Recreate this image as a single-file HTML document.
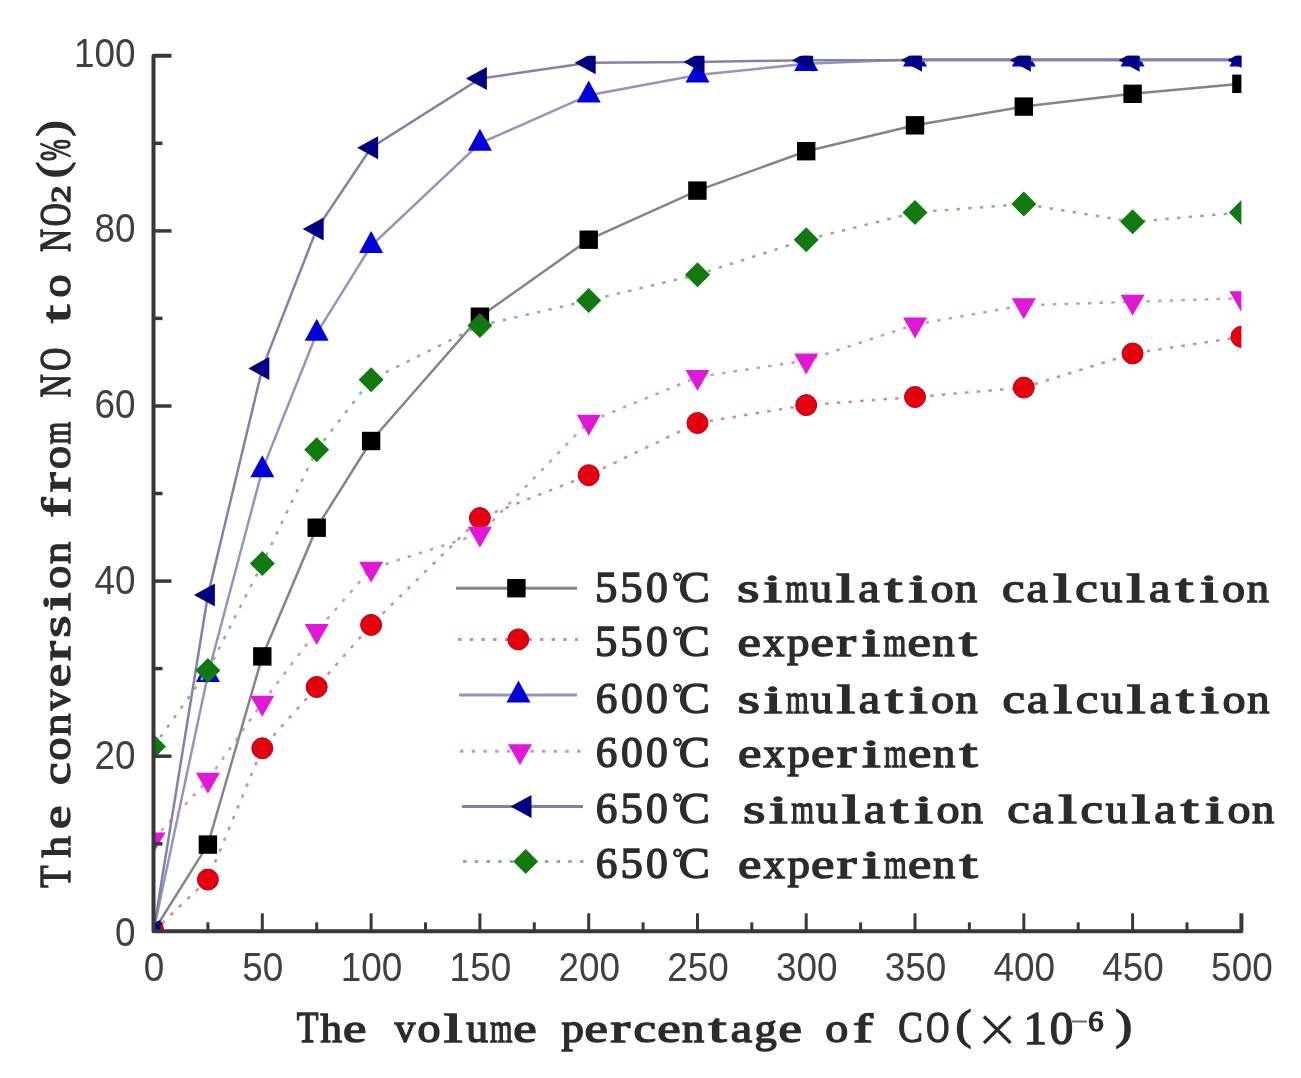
<!DOCTYPE html>
<html><head><meta charset="utf-8"><style>
html,body{margin:0;padding:0;background:#fff;}
svg{display:block;filter:blur(0.55px);}
.t text{font-family:"Liberation Sans",sans-serif;font-size:41px;fill:#404040;}
text.g{font-family:"Liberation Serif",serif;font-weight:normal;font-size:44px;fill:#2c2c2c;stroke:#2c2c2c;stroke-width:1.4px;}
.yl text.g{font-size:45px;}
</style></head><body>
<svg width="1301" height="1078" viewBox="0 0 1301 1078">
<defs><clipPath id="pc"><rect x="153.5" y="55.8" width="1087.9" height="875.5"/></clipPath></defs>
<rect width="1301" height="1078" fill="#fff"/>
<g clip-path="url(#pc)">
<polyline points="153.5,931.3 207.9,844.6 262.3,656.4 316.7,527.7 371.1,441.0 479.9,316.7 588.7,239.7 697.5,190.6 806.2,151.2 915.0,125.3 1023.8,106.6 1132.6,93.8 1241.4,83.8" fill="none" stroke="#858585" stroke-width="2.5"/>
<rect x="144.3" y="922.1" width="18.4" height="18.4" fill="#000000"/>
<rect x="198.7" y="835.4" width="18.4" height="18.4" fill="#000000"/>
<rect x="253.1" y="647.2" width="18.4" height="18.4" fill="#000000"/>
<rect x="307.5" y="518.5" width="18.4" height="18.4" fill="#000000"/>
<rect x="361.9" y="431.8" width="18.4" height="18.4" fill="#000000"/>
<rect x="470.7" y="307.5" width="18.4" height="18.4" fill="#000000"/>
<rect x="579.5" y="230.5" width="18.4" height="18.4" fill="#000000"/>
<rect x="688.2" y="181.4" width="18.4" height="18.4" fill="#000000"/>
<rect x="797.0" y="142.0" width="18.4" height="18.4" fill="#000000"/>
<rect x="905.8" y="116.1" width="18.4" height="18.4" fill="#000000"/>
<rect x="1014.6" y="97.4" width="18.4" height="18.4" fill="#000000"/>
<rect x="1123.4" y="84.6" width="18.4" height="18.4" fill="#000000"/>
<rect x="1232.2" y="74.6" width="18.4" height="18.4" fill="#000000"/>
<polyline points="153.5,931.3 207.9,879.6 262.3,748.3 316.7,687.0 371.1,624.9 479.9,518.1 588.7,475.2 697.5,423.0 806.2,405.1 915.0,397.0 1023.8,387.6 1132.6,353.5 1241.4,336.8" fill="none" stroke="#cc8e8e" stroke-width="2.5" stroke-dasharray="3.5 8.2"/>
<circle cx="153.5" cy="931.3" r="10.5" fill="#e4000e" stroke="#b00010" stroke-width="1"/>
<circle cx="207.9" cy="879.6" r="10.5" fill="#e4000e" stroke="#b00010" stroke-width="1"/>
<circle cx="262.3" cy="748.3" r="10.5" fill="#e4000e" stroke="#b00010" stroke-width="1"/>
<circle cx="316.7" cy="687.0" r="10.5" fill="#e4000e" stroke="#b00010" stroke-width="1"/>
<circle cx="371.1" cy="624.9" r="10.5" fill="#e4000e" stroke="#b00010" stroke-width="1"/>
<circle cx="479.9" cy="518.1" r="10.5" fill="#e4000e" stroke="#b00010" stroke-width="1"/>
<circle cx="588.7" cy="475.2" r="10.5" fill="#e4000e" stroke="#b00010" stroke-width="1"/>
<circle cx="697.5" cy="423.0" r="10.5" fill="#e4000e" stroke="#b00010" stroke-width="1"/>
<circle cx="806.2" cy="405.1" r="10.5" fill="#e4000e" stroke="#b00010" stroke-width="1"/>
<circle cx="915.0" cy="397.0" r="10.5" fill="#e4000e" stroke="#b00010" stroke-width="1"/>
<circle cx="1023.8" cy="387.6" r="10.5" fill="#e4000e" stroke="#b00010" stroke-width="1"/>
<circle cx="1132.6" cy="353.5" r="10.5" fill="#e4000e" stroke="#b00010" stroke-width="1"/>
<circle cx="1241.4" cy="336.8" r="10.5" fill="#e4000e" stroke="#b00010" stroke-width="1"/>
<polyline points="153.5,931.3 207.9,674.8 262.3,469.9 316.7,333.3 371.1,245.8 479.9,143.3 588.7,95.2 697.5,75.1 806.2,63.7 915.0,59.3 1023.8,59.3 1132.6,59.3 1241.4,59.3" fill="none" stroke="#9595bc" stroke-width="2.5"/>
<path d="M153.5 916.6L165.5 938.6L141.5 938.6Z" fill="#0000d8"/>
<path d="M207.9 660.1L219.9 682.1L195.9 682.1Z" fill="#0000d8"/>
<path d="M262.3 455.2L274.3 477.2L250.3 477.2Z" fill="#0000d8"/>
<path d="M316.7 318.7L328.7 340.7L304.7 340.7Z" fill="#0000d8"/>
<path d="M371.1 231.1L383.1 253.1L359.1 253.1Z" fill="#0000d8"/>
<path d="M479.9 128.7L491.9 150.7L467.9 150.7Z" fill="#0000d8"/>
<path d="M588.7 80.5L600.7 102.5L576.7 102.5Z" fill="#0000d8"/>
<path d="M697.5 60.4L709.5 82.4L685.5 82.4Z" fill="#0000d8"/>
<path d="M806.2 49.0L818.2 71.0L794.2 71.0Z" fill="#0000d8"/>
<path d="M915.0 44.6L927.0 66.6L903.0 66.6Z" fill="#0000d8"/>
<path d="M1023.8 44.6L1035.8 66.6L1011.8 66.6Z" fill="#0000d8"/>
<path d="M1132.6 44.6L1144.6 66.6L1120.6 66.6Z" fill="#0000d8"/>
<path d="M1241.4 44.6L1253.4 66.6L1229.4 66.6Z" fill="#0000d8"/>
<polyline points="153.5,839.4 207.9,779.8 262.3,702.8 316.7,631.0 371.1,568.8 479.9,533.8 588.7,421.8 697.5,377.1 806.2,360.5 915.0,324.6 1023.8,305.3 1132.6,301.8 1241.4,298.3" fill="none" stroke="#c896c8" stroke-width="2.5" stroke-dasharray="3.5 8.2"/>
<path d="M153.5 853.4L165.5 832.4L141.5 832.4Z" fill="#e018d8"/>
<path d="M207.9 793.8L219.9 772.8L195.9 772.8Z" fill="#e018d8"/>
<path d="M262.3 716.8L274.3 695.8L250.3 695.8Z" fill="#e018d8"/>
<path d="M316.7 645.0L328.7 624.0L304.7 624.0Z" fill="#e018d8"/>
<path d="M371.1 582.8L383.1 561.8L359.1 561.8Z" fill="#e018d8"/>
<path d="M479.9 547.8L491.9 526.8L467.9 526.8Z" fill="#e018d8"/>
<path d="M588.7 435.8L600.7 414.8L576.7 414.8Z" fill="#e018d8"/>
<path d="M697.5 391.1L709.5 370.1L685.5 370.1Z" fill="#e018d8"/>
<path d="M806.2 374.5L818.2 353.5L794.2 353.5Z" fill="#e018d8"/>
<path d="M915.0 338.6L927.0 317.6L903.0 317.6Z" fill="#e018d8"/>
<path d="M1023.8 319.3L1035.8 298.3L1011.8 298.3Z" fill="#e018d8"/>
<path d="M1132.6 315.8L1144.6 294.8L1120.6 294.8Z" fill="#e018d8"/>
<path d="M1241.4 312.3L1253.4 291.3L1229.4 291.3Z" fill="#e018d8"/>
<polyline points="153.5,931.3 207.9,595.1 262.3,368.4 316.7,229.1 371.1,147.7 479.9,78.6 588.7,62.8 697.5,61.9 806.2,60.2 915.0,60.2 1023.8,60.2 1132.6,60.2 1241.4,60.2" fill="none" stroke="#8282a8" stroke-width="2.5"/>
<path d="M139.5 931.3L160.5 919.8L160.5 942.8Z" fill="#000080"/>
<path d="M193.9 595.1L214.9 583.6L214.9 606.6Z" fill="#000080"/>
<path d="M248.3 368.4L269.3 356.9L269.3 379.9Z" fill="#000080"/>
<path d="M302.7 229.1L323.7 217.6L323.7 240.6Z" fill="#000080"/>
<path d="M357.1 147.7L378.1 136.2L378.1 159.2Z" fill="#000080"/>
<path d="M465.9 78.6L486.9 67.1L486.9 90.1Z" fill="#000080"/>
<path d="M574.7 62.8L595.7 51.3L595.7 74.3Z" fill="#000080"/>
<path d="M683.5 61.9L704.5 50.4L704.5 73.4Z" fill="#000080"/>
<path d="M792.2 60.2L813.2 48.7L813.2 71.7Z" fill="#000080"/>
<path d="M901.0 60.2L922.0 48.7L922.0 71.7Z" fill="#000080"/>
<path d="M1009.8 60.2L1030.8 48.7L1030.8 71.7Z" fill="#000080"/>
<path d="M1118.6 60.2L1139.6 48.7L1139.6 71.7Z" fill="#000080"/>
<path d="M1227.4 60.2L1248.4 48.7L1248.4 71.7Z" fill="#000080"/>
<polyline points="153.5,746.6 207.9,670.4 262.3,563.6 316.7,449.8 371.1,379.7 479.9,325.5 588.7,300.5 697.5,274.7 806.2,239.7 915.0,212.5 1023.8,204.0 1132.6,221.8 1241.4,212.5" fill="none" stroke="#8eb08e" stroke-width="2.5" stroke-dasharray="3.5 8.2"/>
<path d="M153.5 734.1L166.0 746.6L153.5 759.1L141.0 746.6Z" fill="#107a10"/>
<path d="M207.9 657.9L220.4 670.4L207.9 682.9L195.4 670.4Z" fill="#107a10"/>
<path d="M262.3 551.1L274.8 563.6L262.3 576.1L249.8 563.6Z" fill="#107a10"/>
<path d="M316.7 437.3L329.2 449.8L316.7 462.3L304.2 449.8Z" fill="#107a10"/>
<path d="M371.1 367.2L383.6 379.7L371.1 392.2L358.6 379.7Z" fill="#107a10"/>
<path d="M479.9 313.0L492.4 325.5L479.9 338.0L467.4 325.5Z" fill="#107a10"/>
<path d="M588.7 288.0L601.2 300.5L588.7 313.0L576.2 300.5Z" fill="#107a10"/>
<path d="M697.5 262.2L710.0 274.7L697.5 287.2L685.0 274.7Z" fill="#107a10"/>
<path d="M806.2 227.2L818.7 239.7L806.2 252.2L793.7 239.7Z" fill="#107a10"/>
<path d="M915.0 200.0L927.5 212.5L915.0 225.0L902.5 212.5Z" fill="#107a10"/>
<path d="M1023.8 191.5L1036.3 204.0L1023.8 216.5L1011.3 204.0Z" fill="#107a10"/>
<path d="M1132.6 209.3L1145.1 221.8L1132.6 234.3L1120.1 221.8Z" fill="#107a10"/>
<path d="M1241.4 200.0L1253.9 212.5L1241.4 225.0L1228.9 212.5Z" fill="#107a10"/>
</g>
<path d="M171.5 55.8H153.5V931.3H1241.4V913.3" fill="none" stroke="#383838" stroke-width="4" stroke-linejoin="round"/>
<line x1="153.5" y1="843.8" x2="162.5" y2="843.8" stroke="#383838" stroke-width="3.5"/>
<line x1="153.5" y1="756.2" x2="171.5" y2="756.2" stroke="#383838" stroke-width="3.5"/>
<line x1="153.5" y1="668.6" x2="162.5" y2="668.6" stroke="#383838" stroke-width="3.5"/>
<line x1="153.5" y1="581.1" x2="171.5" y2="581.1" stroke="#383838" stroke-width="3.5"/>
<line x1="153.5" y1="493.5" x2="162.5" y2="493.5" stroke="#383838" stroke-width="3.5"/>
<line x1="153.5" y1="406.0" x2="171.5" y2="406.0" stroke="#383838" stroke-width="3.5"/>
<line x1="153.5" y1="318.4" x2="162.5" y2="318.4" stroke="#383838" stroke-width="3.5"/>
<line x1="153.5" y1="230.9" x2="171.5" y2="230.9" stroke="#383838" stroke-width="3.5"/>
<line x1="153.5" y1="143.3" x2="162.5" y2="143.3" stroke="#383838" stroke-width="3.5"/>
<line x1="207.9" y1="931.3" x2="207.9" y2="922.3" stroke="#383838" stroke-width="3"/>
<line x1="262.3" y1="931.3" x2="262.3" y2="913.3" stroke="#383838" stroke-width="3"/>
<line x1="316.7" y1="931.3" x2="316.7" y2="922.3" stroke="#383838" stroke-width="3"/>
<line x1="371.1" y1="931.3" x2="371.1" y2="913.3" stroke="#383838" stroke-width="3"/>
<line x1="425.5" y1="931.3" x2="425.5" y2="922.3" stroke="#383838" stroke-width="3"/>
<line x1="479.9" y1="931.3" x2="479.9" y2="913.3" stroke="#383838" stroke-width="3"/>
<line x1="534.3" y1="931.3" x2="534.3" y2="922.3" stroke="#383838" stroke-width="3"/>
<line x1="588.7" y1="931.3" x2="588.7" y2="913.3" stroke="#383838" stroke-width="3"/>
<line x1="643.1" y1="931.3" x2="643.1" y2="922.3" stroke="#383838" stroke-width="3"/>
<line x1="697.5" y1="931.3" x2="697.5" y2="913.3" stroke="#383838" stroke-width="3"/>
<line x1="751.8" y1="931.3" x2="751.8" y2="922.3" stroke="#383838" stroke-width="3"/>
<line x1="806.2" y1="931.3" x2="806.2" y2="913.3" stroke="#383838" stroke-width="3"/>
<line x1="860.6" y1="931.3" x2="860.6" y2="922.3" stroke="#383838" stroke-width="3"/>
<line x1="915.0" y1="931.3" x2="915.0" y2="913.3" stroke="#383838" stroke-width="3"/>
<line x1="969.4" y1="931.3" x2="969.4" y2="922.3" stroke="#383838" stroke-width="3"/>
<line x1="1023.8" y1="931.3" x2="1023.8" y2="913.3" stroke="#383838" stroke-width="3"/>
<line x1="1078.2" y1="931.3" x2="1078.2" y2="922.3" stroke="#383838" stroke-width="3"/>
<line x1="1132.6" y1="931.3" x2="1132.6" y2="913.3" stroke="#383838" stroke-width="3"/>
<line x1="1187.0" y1="931.3" x2="1187.0" y2="922.3" stroke="#383838" stroke-width="3"/>
<g class="t">
<text transform="translate(135.5,67.2) scale(0.9,1)" text-anchor="end">100</text>
<text transform="translate(135.5,241.6) scale(0.9,1)" text-anchor="end">80</text>
<text transform="translate(135.5,417.7) scale(0.9,1)" text-anchor="end">60</text>
<text transform="translate(135.5,594.1) scale(0.9,1)" text-anchor="end">40</text>
<text transform="translate(135.5,769.1) scale(0.9,1)" text-anchor="end">20</text>
<text transform="translate(135.5,945.7) scale(0.9,1)" text-anchor="end">0</text>
<text transform="translate(154.0,981.4) scale(0.9,1)" text-anchor="middle">0</text>
<text transform="translate(262.8,981.4) scale(0.9,1)" text-anchor="middle">50</text>
<text transform="translate(371.6,981.4) scale(0.9,1)" text-anchor="middle">100</text>
<text transform="translate(480.4,981.4) scale(0.9,1)" text-anchor="middle">150</text>
<text transform="translate(589.2,981.4) scale(0.9,1)" text-anchor="middle">200</text>
<text transform="translate(698.0,981.4) scale(0.9,1)" text-anchor="middle">250</text>
<text transform="translate(806.7,981.4) scale(0.9,1)" text-anchor="middle">300</text>
<text transform="translate(915.5,981.4) scale(0.9,1)" text-anchor="middle">350</text>
<text transform="translate(1024.3,981.4) scale(0.9,1)" text-anchor="middle">400</text>
<text transform="translate(1133.1,981.4) scale(0.9,1)" text-anchor="middle">450</text>
<text transform="translate(1241.9,981.4) scale(0.9,1)" text-anchor="middle">500</text>
</g>
<line x1="456" y1="588.2" x2="577" y2="588.2" stroke="#858585" stroke-width="3"/>
<rect x="507.2" y="579.0" width="18.4" height="18.4" fill="#000000"/>
<text class="g" transform="translate(595.1,601.9) scale(1.016,1)" style="font-size:44px">5</text>
<text class="g" transform="translate(620.3,601.9) scale(1.016,1)" style="font-size:44px">5</text>
<text class="g" transform="translate(646.1,601.9) scale(0.992,1)" style="font-size:44px">0</text>
<circle cx="677.5" cy="576.8" r="3.2" fill="none" stroke="#2a2a2a" stroke-width="2.4"/>
<text class="g" transform="translate(678.8,601.9) scale(1.060,1)" style="font-size:44px">C</text>
<text class="g" transform="translate(737.1,601.9) scale(1.407,1)" style="font-size:41px">s</text>
<text class="g" transform="translate(763.3,601.9) scale(1.641,1)" style="font-size:41px">i</text>
<text class="g" transform="translate(785.4,601.9) scale(0.714,1)" style="font-size:41px">m</text>
<text class="g" transform="translate(810.3,601.9) scale(1.064,1)" style="font-size:41px">u</text>
<text class="g" transform="translate(835.9,601.9) scale(1.641,1)" style="font-size:41px">l</text>
<text class="g" transform="translate(858.3,601.9) scale(1.173,1)" style="font-size:41px">a</text>
<text class="g" transform="translate(884.5,601.9) scale(1.581,1)" style="font-size:41px">t</text>
<text class="g" transform="translate(908.4,601.9) scale(1.641,1)" style="font-size:41px">i</text>
<text class="g" transform="translate(930.6,601.9) scale(1.122,1)" style="font-size:41px">o</text>
<text class="g" transform="translate(955.0,601.9) scale(1.082,1)" style="font-size:41px">n</text>
<text class="g" transform="translate(1001.9,601.9) scale(1.236,1)" style="font-size:41px">c</text>
<text class="g" transform="translate(1026.6,601.9) scale(1.173,1)" style="font-size:41px">a</text>
<text class="g" transform="translate(1052.9,601.9) scale(1.641,1)" style="font-size:41px">l</text>
<text class="g" transform="translate(1075.3,601.9) scale(1.236,1)" style="font-size:41px">c</text>
<text class="g" transform="translate(1100.4,601.9) scale(1.064,1)" style="font-size:41px">u</text>
<text class="g" transform="translate(1126.3,601.9) scale(1.641,1)" style="font-size:41px">l</text>
<text class="g" transform="translate(1149.0,601.9) scale(1.173,1)" style="font-size:41px">a</text>
<text class="g" transform="translate(1175.5,601.9) scale(1.581,1)" style="font-size:41px">t</text>
<text class="g" transform="translate(1199.7,601.9) scale(1.641,1)" style="font-size:41px">i</text>
<text class="g" transform="translate(1222.1,601.9) scale(1.122,1)" style="font-size:41px">o</text>
<text class="g" transform="translate(1246.8,601.9) scale(1.082,1)" style="font-size:41px">n</text>
<line x1="458" y1="639.4" x2="578" y2="639.4" stroke="#cc8e8e" stroke-width="3" stroke-dasharray="3.5 8.2"/>
<circle cx="518.3" cy="639.4" r="10.5" fill="#e4000e" stroke="#b00010" stroke-width="1"/>
<text class="g" transform="translate(595.1,656.3) scale(1.016,1)" style="font-size:44px">5</text>
<text class="g" transform="translate(620.3,656.3) scale(1.016,1)" style="font-size:44px">5</text>
<text class="g" transform="translate(646.1,656.3) scale(0.992,1)" style="font-size:44px">0</text>
<circle cx="677.5" cy="631.2" r="3.2" fill="none" stroke="#2a2a2a" stroke-width="2.4"/>
<text class="g" transform="translate(678.8,656.3) scale(1.060,1)" style="font-size:44px">C</text>
<text class="g" transform="translate(737.4,656.3) scale(1.285,1)" style="font-size:41px">e</text>
<text class="g" transform="translate(762.9,656.3) scale(1.044,1)" style="font-size:41px">x</text>
<text class="g" transform="translate(787.1,656.3) scale(1.097,1)" style="font-size:41px">p</text>
<text class="g" transform="translate(810.4,656.3) scale(1.285,1)" style="font-size:41px">e</text>
<text class="g" transform="translate(836.3,656.3) scale(1.443,1)" style="font-size:41px">r</text>
<text class="g" transform="translate(861.4,656.3) scale(1.641,1)" style="font-size:41px">i</text>
<text class="g" transform="translate(883.6,656.3) scale(0.714,1)" style="font-size:41px">m</text>
<text class="g" transform="translate(907.6,656.3) scale(1.285,1)" style="font-size:41px">e</text>
<text class="g" transform="translate(932.4,656.3) scale(1.082,1)" style="font-size:41px">n</text>
<text class="g" transform="translate(958.9,656.3) scale(1.581,1)" style="font-size:41px">t</text>
<line x1="459" y1="695.1" x2="577" y2="695.1" stroke="#9595bc" stroke-width="3"/>
<path d="M518.5 680.4L530.5 702.4L506.5 702.4Z" fill="#0000d8"/>
<text class="g" transform="translate(595.8,713.2) scale(0.984,1)" style="font-size:44px">6</text>
<text class="g" transform="translate(621.1,713.2) scale(0.992,1)" style="font-size:44px">0</text>
<text class="g" transform="translate(646.1,713.2) scale(0.992,1)" style="font-size:44px">0</text>
<circle cx="677.5" cy="688.1" r="3.2" fill="none" stroke="#2a2a2a" stroke-width="2.4"/>
<text class="g" transform="translate(678.8,713.2) scale(1.060,1)" style="font-size:44px">C</text>
<text class="g" transform="translate(737.6,713.2) scale(1.407,1)" style="font-size:41px">s</text>
<text class="g" transform="translate(763.8,713.2) scale(1.641,1)" style="font-size:41px">i</text>
<text class="g" transform="translate(785.9,713.2) scale(0.714,1)" style="font-size:41px">m</text>
<text class="g" transform="translate(810.8,713.2) scale(1.064,1)" style="font-size:41px">u</text>
<text class="g" transform="translate(836.4,713.2) scale(1.641,1)" style="font-size:41px">l</text>
<text class="g" transform="translate(858.8,713.2) scale(1.173,1)" style="font-size:41px">a</text>
<text class="g" transform="translate(885.0,713.2) scale(1.581,1)" style="font-size:41px">t</text>
<text class="g" transform="translate(908.9,713.2) scale(1.641,1)" style="font-size:41px">i</text>
<text class="g" transform="translate(931.1,713.2) scale(1.122,1)" style="font-size:41px">o</text>
<text class="g" transform="translate(955.5,713.2) scale(1.082,1)" style="font-size:41px">n</text>
<text class="g" transform="translate(1002.4,713.2) scale(1.236,1)" style="font-size:41px">c</text>
<text class="g" transform="translate(1027.1,713.2) scale(1.173,1)" style="font-size:41px">a</text>
<text class="g" transform="translate(1053.4,713.2) scale(1.641,1)" style="font-size:41px">l</text>
<text class="g" transform="translate(1075.8,713.2) scale(1.236,1)" style="font-size:41px">c</text>
<text class="g" transform="translate(1100.9,713.2) scale(1.064,1)" style="font-size:41px">u</text>
<text class="g" transform="translate(1126.8,713.2) scale(1.641,1)" style="font-size:41px">l</text>
<text class="g" transform="translate(1149.5,713.2) scale(1.173,1)" style="font-size:41px">a</text>
<text class="g" transform="translate(1176.0,713.2) scale(1.581,1)" style="font-size:41px">t</text>
<text class="g" transform="translate(1200.2,713.2) scale(1.641,1)" style="font-size:41px">i</text>
<text class="g" transform="translate(1222.6,713.2) scale(1.122,1)" style="font-size:41px">o</text>
<text class="g" transform="translate(1247.3,713.2) scale(1.082,1)" style="font-size:41px">n</text>
<line x1="460" y1="751.2" x2="581" y2="751.2" stroke="#c896c8" stroke-width="3" stroke-dasharray="3.5 8.2"/>
<path d="M520.0 765.2L532.0 744.2L508.0 744.2Z" fill="#e018d8"/>
<text class="g" transform="translate(595.8,767.2) scale(0.984,1)" style="font-size:44px">6</text>
<text class="g" transform="translate(621.1,767.2) scale(0.992,1)" style="font-size:44px">0</text>
<text class="g" transform="translate(646.1,767.2) scale(0.992,1)" style="font-size:44px">0</text>
<circle cx="677.5" cy="742.1" r="3.2" fill="none" stroke="#2a2a2a" stroke-width="2.4"/>
<text class="g" transform="translate(678.8,767.2) scale(1.060,1)" style="font-size:44px">C</text>
<text class="g" transform="translate(737.9,767.2) scale(1.285,1)" style="font-size:41px">e</text>
<text class="g" transform="translate(763.4,767.2) scale(1.044,1)" style="font-size:41px">x</text>
<text class="g" transform="translate(787.6,767.2) scale(1.097,1)" style="font-size:41px">p</text>
<text class="g" transform="translate(810.9,767.2) scale(1.285,1)" style="font-size:41px">e</text>
<text class="g" transform="translate(836.8,767.2) scale(1.443,1)" style="font-size:41px">r</text>
<text class="g" transform="translate(861.9,767.2) scale(1.641,1)" style="font-size:41px">i</text>
<text class="g" transform="translate(884.1,767.2) scale(0.714,1)" style="font-size:41px">m</text>
<text class="g" transform="translate(908.1,767.2) scale(1.285,1)" style="font-size:41px">e</text>
<text class="g" transform="translate(932.9,767.2) scale(1.082,1)" style="font-size:41px">n</text>
<text class="g" transform="translate(959.4,767.2) scale(1.581,1)" style="font-size:41px">t</text>
<line x1="462" y1="806.4" x2="583" y2="806.4" stroke="#8282a8" stroke-width="3"/>
<path d="M510.5 806.4L531.5 794.9L531.5 817.9Z" fill="#000080"/>
<text class="g" transform="translate(595.8,822.8) scale(0.984,1)" style="font-size:44px">6</text>
<text class="g" transform="translate(620.4,822.8) scale(1.016,1)" style="font-size:44px">5</text>
<text class="g" transform="translate(646.1,822.8) scale(0.992,1)" style="font-size:44px">0</text>
<circle cx="677.5" cy="797.7" r="3.2" fill="none" stroke="#2a2a2a" stroke-width="2.4"/>
<text class="g" transform="translate(678.8,822.8) scale(1.060,1)" style="font-size:44px">C</text>
<text class="g" transform="translate(742.9,822.8) scale(1.407,1)" style="font-size:41px">s</text>
<text class="g" transform="translate(769.1,822.8) scale(1.641,1)" style="font-size:41px">i</text>
<text class="g" transform="translate(791.2,822.8) scale(0.714,1)" style="font-size:41px">m</text>
<text class="g" transform="translate(816.1,822.8) scale(1.064,1)" style="font-size:41px">u</text>
<text class="g" transform="translate(841.7,822.8) scale(1.641,1)" style="font-size:41px">l</text>
<text class="g" transform="translate(864.1,822.8) scale(1.173,1)" style="font-size:41px">a</text>
<text class="g" transform="translate(890.3,822.8) scale(1.581,1)" style="font-size:41px">t</text>
<text class="g" transform="translate(914.2,822.8) scale(1.641,1)" style="font-size:41px">i</text>
<text class="g" transform="translate(936.4,822.8) scale(1.122,1)" style="font-size:41px">o</text>
<text class="g" transform="translate(960.8,822.8) scale(1.082,1)" style="font-size:41px">n</text>
<text class="g" transform="translate(1007.2,822.8) scale(1.236,1)" style="font-size:41px">c</text>
<text class="g" transform="translate(1031.9,822.8) scale(1.173,1)" style="font-size:41px">a</text>
<text class="g" transform="translate(1058.2,822.8) scale(1.641,1)" style="font-size:41px">l</text>
<text class="g" transform="translate(1080.6,822.8) scale(1.236,1)" style="font-size:41px">c</text>
<text class="g" transform="translate(1105.7,822.8) scale(1.064,1)" style="font-size:41px">u</text>
<text class="g" transform="translate(1131.6,822.8) scale(1.641,1)" style="font-size:41px">l</text>
<text class="g" transform="translate(1154.3,822.8) scale(1.173,1)" style="font-size:41px">a</text>
<text class="g" transform="translate(1180.8,822.8) scale(1.581,1)" style="font-size:41px">t</text>
<text class="g" transform="translate(1205.0,822.8) scale(1.641,1)" style="font-size:41px">i</text>
<text class="g" transform="translate(1227.4,822.8) scale(1.122,1)" style="font-size:41px">o</text>
<text class="g" transform="translate(1252.1,822.8) scale(1.082,1)" style="font-size:41px">n</text>
<line x1="463" y1="861.4" x2="585" y2="861.4" stroke="#8eb08e" stroke-width="3" stroke-dasharray="3.5 8.2"/>
<path d="M525.7 848.9L538.2 861.4L525.7 873.9L513.2 861.4Z" fill="#107a10"/>
<text class="g" transform="translate(595.8,878.0) scale(0.984,1)" style="font-size:44px">6</text>
<text class="g" transform="translate(620.4,878.0) scale(1.016,1)" style="font-size:44px">5</text>
<text class="g" transform="translate(646.1,878.0) scale(0.992,1)" style="font-size:44px">0</text>
<circle cx="677.5" cy="852.9" r="3.2" fill="none" stroke="#2a2a2a" stroke-width="2.4"/>
<text class="g" transform="translate(678.8,878.0) scale(1.060,1)" style="font-size:44px">C</text>
<text class="g" transform="translate(737.9,878.0) scale(1.285,1)" style="font-size:41px">e</text>
<text class="g" transform="translate(763.4,878.0) scale(1.044,1)" style="font-size:41px">x</text>
<text class="g" transform="translate(787.6,878.0) scale(1.097,1)" style="font-size:41px">p</text>
<text class="g" transform="translate(810.9,878.0) scale(1.285,1)" style="font-size:41px">e</text>
<text class="g" transform="translate(836.8,878.0) scale(1.443,1)" style="font-size:41px">r</text>
<text class="g" transform="translate(861.9,878.0) scale(1.641,1)" style="font-size:41px">i</text>
<text class="g" transform="translate(884.1,878.0) scale(0.714,1)" style="font-size:41px">m</text>
<text class="g" transform="translate(908.1,878.0) scale(1.285,1)" style="font-size:41px">e</text>
<text class="g" transform="translate(932.9,878.0) scale(1.082,1)" style="font-size:41px">n</text>
<text class="g" transform="translate(959.4,878.0) scale(1.581,1)" style="font-size:41px">t</text>
<g class="yl" transform="translate(69.5,0) rotate(-90)">
<text class="g" transform="translate(-887.7,0.0) scale(0.828,1)" style="font-size:44px">T</text>
<text class="g" transform="translate(-857.5,0.0) scale(1.061,1)" style="font-size:40.5px">h</text>
<text class="g" transform="translate(-829.0,0.0) scale(1.301,1)" style="font-size:40.5px">e</text>
<text class="g" transform="translate(-784.9,0.0) scale(1.251,1)" style="font-size:40.5px">c</text>
<text class="g" transform="translate(-760.5,0.0) scale(1.136,1)" style="font-size:40.5px">o</text>
<text class="g" transform="translate(-735.7,0.0) scale(1.096,1)" style="font-size:40.5px">n</text>
<text class="g" transform="translate(-710.2,0.0) scale(1.012,1)" style="font-size:40.5px">v</text>
<text class="g" transform="translate(-687.2,0.0) scale(1.301,1)" style="font-size:40.5px">e</text>
<text class="g" transform="translate(-661.0,0.0) scale(1.461,1)" style="font-size:40.5px">r</text>
<text class="g" transform="translate(-637.7,0.0) scale(1.424,1)" style="font-size:40.5px">s</text>
<text class="g" transform="translate(-611.2,0.0) scale(1.661,1)" style="font-size:40.5px">i</text>
<text class="g" transform="translate(-588.8,0.0) scale(1.136,1)" style="font-size:40.5px">o</text>
<text class="g" transform="translate(-564.0,0.0) scale(1.096,1)" style="font-size:40.5px">n</text>
<text class="g" transform="translate(-517.4,0.0) scale(1.470,1)" style="font-size:40.5px">f</text>
<text class="g" transform="translate(-492.2,0.0) scale(1.461,1)" style="font-size:40.5px">r</text>
<text class="g" transform="translate(-469.0,0.0) scale(1.136,1)" style="font-size:40.5px">o</text>
<text class="g" transform="translate(-444.2,0.0) scale(0.711,1)" style="font-size:40.5px">m</text>
<text class="g" transform="translate(-397.4,0.0) scale(0.729,1)" style="font-size:44px">N</text>
<text class="g" transform="translate(-370.8,0.0) scale(0.728,1)" style="font-size:44px">O</text>
<text class="g" transform="translate(-322.9,0.0) scale(1.601,1)" style="font-size:40.5px">t</text>
<text class="g" transform="translate(-297.6,0.0) scale(1.136,1)" style="font-size:40.5px">o</text>
<text class="g" transform="translate(-252.1,0.0) scale(0.724,1)" style="font-size:44px">N</text>
<text class="g" transform="translate(-226.3,0.0) scale(0.728,1)" style="font-size:44px">O</text>
<text class="g" transform="translate(-203.0,0.0) scale(1.247,1)" style="font-size:28px">2</text>
<text class="g" transform="translate(-178.1,-3.5) scale(1.132,1)" style="font-size:43px">(</text>
<text class="g" transform="translate(-160.9,0.0) scale(0.581,1)" style="font-size:45px">%</text>
<text class="g" transform="translate(-136.6,-3.5) scale(1.132,1)" style="font-size:43px">)</text>
</g>
<text class="g" transform="translate(296.7,1042.3) scale(0.807,1)" style="font-size:44px">T</text>
<text class="g" transform="translate(320.6,1042.3) scale(1.059,1)" style="font-size:40.5px">h</text>
<text class="g" transform="translate(343.1,1042.3) scale(1.301,1)" style="font-size:40.5px">e</text>
<text class="g" transform="translate(394.8,1042.3) scale(1.012,1)" style="font-size:40.5px">v</text>
<text class="g" transform="translate(417.6,1042.3) scale(1.136,1)" style="font-size:40.5px">o</text>
<text class="g" transform="translate(443.7,1042.3) scale(1.661,1)" style="font-size:40.5px">l</text>
<text class="g" transform="translate(466.3,1042.3) scale(1.078,1)" style="font-size:40.5px">u</text>
<text class="g" transform="translate(489.9,1042.3) scale(0.711,1)" style="font-size:40.5px">m</text>
<text class="g" transform="translate(513.3,1042.3) scale(1.301,1)" style="font-size:40.5px">e</text>
<text class="g" transform="translate(561.4,1042.3) scale(1.110,1)" style="font-size:40.5px">p</text>
<text class="g" transform="translate(584.6,1042.3) scale(1.301,1)" style="font-size:40.5px">e</text>
<text class="g" transform="translate(610.4,1042.3) scale(1.461,1)" style="font-size:40.5px">r</text>
<text class="g" transform="translate(633.5,1042.3) scale(1.251,1)" style="font-size:40.5px">c</text>
<text class="g" transform="translate(657.3,1042.3) scale(1.301,1)" style="font-size:40.5px">e</text>
<text class="g" transform="translate(682.1,1042.3) scale(1.096,1)" style="font-size:40.5px">n</text>
<text class="g" transform="translate(708.5,1042.3) scale(1.601,1)" style="font-size:40.5px">t</text>
<text class="g" transform="translate(730.7,1042.3) scale(1.188,1)" style="font-size:40.5px">a</text>
<text class="g" transform="translate(754.5,1042.3) scale(1.099,1)" style="font-size:40.5px">g</text>
<text class="g" transform="translate(778.6,1042.3) scale(1.301,1)" style="font-size:40.5px">e</text>
<text class="g" transform="translate(825.3,1042.3) scale(1.136,1)" style="font-size:40.5px">o</text>
<text class="g" transform="translate(853.0,1042.3) scale(1.470,1)" style="font-size:40.5px">f</text>
<text class="g" transform="translate(898.2,1042.3) scale(0.836,1)" style="font-size:44px">C</text>
<text class="g" transform="translate(926.2,1042.3) scale(0.728,1)" style="font-size:44px">O</text>
<text class="g" transform="translate(955.6,1038.8) scale(1.114,1)" style="font-size:43px">(</text>
<path d="M984 1016.5 L1010.5 1043 M1010.5 1016.5 L984 1043" stroke="#2a2a2a" stroke-width="3.2" fill="none"/>
<text class="g" x="1023.4" y="1043.5" style="font-size:47px">1</text>
<text class="g" x="1049.8" y="1043.5" style="font-size:47px">0</text>
<path d="M1072 1021.5 h15" stroke="#6a6a6a" stroke-width="2"/>
<text class="g" transform="translate(1088.2,1031.0) scale(1.049,1)" style="font-size:29px">6</text>
<text class="g" transform="translate(1115.2,1038.8) scale(1.186,1)" style="font-size:43px">)</text>
</svg>
</body></html>
